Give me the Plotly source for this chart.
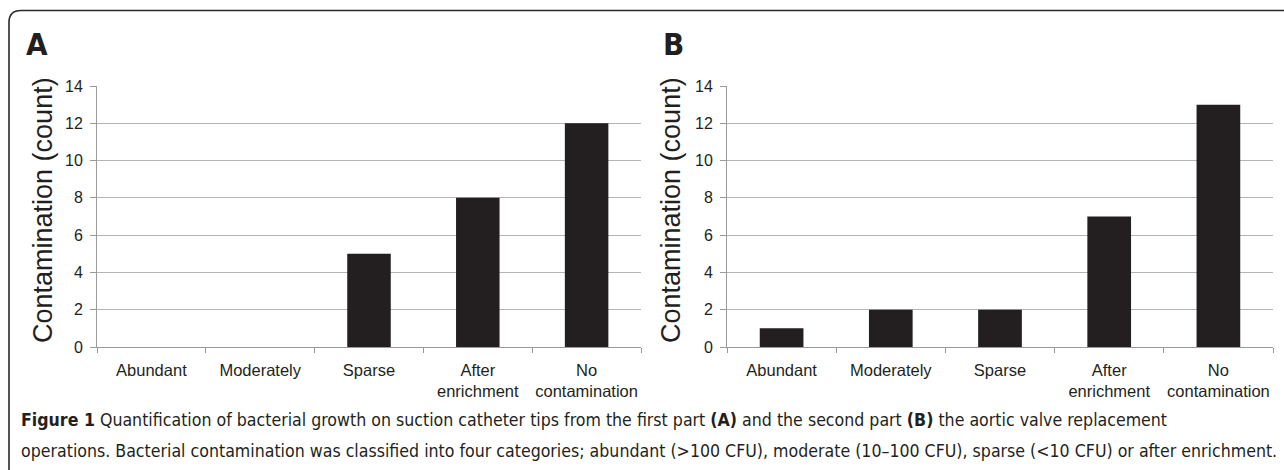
import plotly.graph_objects as go

W, H = 1284, 470

categories = ["Abundant", "Moderately", "Sparse", "After<br>enrichment", "No<br>contamination"]
values_a = [0, 0, 5, 8, 12]
values_b = [1, 2, 2, 7, 13]
y_ticks = [0, 2, 4, 6, 8, 10, 12, 14]
y_title = "Contamination (count)"
panel_labels = ["A", "B"]
caption_1 = ("<b>Figure 1</b> Quantification of bacterial growth on suction catheter tips from the first part "
             "<b>(A)</b> and the second part <b>(B)</b> the aortic valve replacement")
caption_2 = ("operations. Bacterial contamination was classified into four categories; abundant (&gt;100 CFU), "
             "moderate (10–100 CFU), sparse (&lt;10 CFU) or after enrichment.")

TXT = "#231f20"
BAR = "#231f20"
GRID = "#b4b4b4"
AX = "#9a9a9a"
FONT = "Liberation Sans, Arial, sans-serif"
NARROW = "Liberation Sans Narrow, Arial Narrow, DejaVu Sans Condensed, sans-serif"

def px(x):
    return x / W

def py(y):
    return 1 - y / H

fig = go.Figure()
fig.add_trace(go.Bar(x=categories, y=values_a, xaxis="x", yaxis="y",
                     marker=dict(color=BAR, line=dict(width=0)), showlegend=False))
fig.add_trace(go.Bar(x=categories, y=values_b, xaxis="x2", yaxis="y2",
                     marker=dict(color=BAR, line=dict(width=0)), showlegend=False))

ydom = [py(347), py(86)]
xcommon = dict(type="category", range=[-0.5, 4.5], showline=True, linecolor=AX, linewidth=1,
               ticks="outside", tickson="boundaries", ticklen=5, tickcolor=AX, showgrid=False,
               tickangle=0,
               tickfont=dict(family=FONT, size=16.5, color=TXT), ticklabelstandoff=8, fixedrange=True,
               automargin=False)
ycommon = dict(range=[0, 14], tickvals=y_ticks, showline=True, linecolor=AX, linewidth=1,
               ticks="outside", ticklen=6, tickcolor=AX, showgrid=True, gridcolor=GRID, gridwidth=1,
               zeroline=False, tickfont=dict(family=FONT, size=16, color=TXT), ticklabelstandoff=4,
               fixedrange=True, automargin=False)

fig.update_layout(
    width=W, height=H, margin=dict(l=0, r=0, t=0, b=0, autoexpand=False),
    paper_bgcolor="white", plot_bgcolor="white",
    bargap=0.6,
    xaxis=dict(domain=[px(97), px(641)], anchor="y", **xcommon),
    xaxis2=dict(domain=[px(727), px(1273)], anchor="y2", **xcommon),
    yaxis=dict(domain=ydom, anchor="x", **ycommon),
    yaxis2=dict(domain=ydom, anchor="x2", **ycommon),
)

ann = []
for xc, lab in [(43, y_title), (671, y_title)]:
    ann.append(dict(x=px(xc), y=py(210), xref="paper", yref="paper", text=lab, textangle=-90,
                    showarrow=False, xanchor="center", yanchor="middle",
                    font=dict(family=FONT, size=27, color=TXT)))
for xl, lab in [(24, panel_labels[0]), (661, panel_labels[1])]:
    ann.append(dict(x=px(xl), y=py(44), xref="paper", yref="paper", text="<b>" + lab + "</b>",
                    showarrow=False, xanchor="left", yanchor="middle",
                    font=dict(family=NARROW, size=31, color=TXT)))
for yc, t in [(420, caption_1), (451, caption_2)]:
    ann.append(dict(x=px(19), y=py(yc), xref="paper", yref="paper", text=t,
                    showarrow=False, xanchor="left", yanchor="middle",
                    font=dict(family=NARROW, size=17.6, color=TXT)))
fig.update_layout(annotations=ann)

r = 12
x0, y0 = 9, 10.5
path = (f"M {px(x0)},{py(H + 20)} L {px(x0)},{py(y0 + r)} "
        f"Q {px(x0)},{py(y0)} {px(x0 + r)},{py(y0)} L {px(W + 20)},{py(y0)}")
fig.add_shape(type="path", path=path, xref="paper", yref="paper",
              line=dict(color="#2a2a2a", width=1.6))

fig.write_html("out.html", config={"displayModeBar": False},
               post_script="document.body.style.margin='0';document.body.style.overflow='hidden';")
